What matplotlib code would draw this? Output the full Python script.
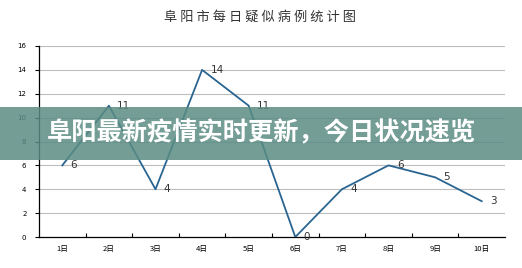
import matplotlib.pyplot as plt
from matplotlib.patches import Rectangle

plt.rcParams['font.family'] = ['Noto Sans CJK SC', 'DejaVu Sans']

days = ['1日', '2日', '3日', '4日', '5日', '6日', '7日', '8日', '9日', '10日']
cases = [6, 11, 4, 14, 11, 0, 4, 6, 5, 3]
yticks = [0, 2, 4, 6, 8, 10, 12, 14, 16]
title = '阜阳市每日疑似病例统计图'
banner = '阜阳最新疫情实时更新，今日状况速览'

fig = plt.figure(figsize=(5.22, 2.68), dpi=100)
ax = fig.add_axes([39 / 522, 1 - 237 / 268, 466 / 522, 191 / 268])

x = list(range(len(days)))
ax.plot(x, cases, color='#2a6592', lw=1.3, zorder=3)
for xi, v in zip(x, cases):
    ax.annotate(str(v), (xi, v), xytext=(6, 0), textcoords='offset points',
                ha='left', va='center', fontsize=7.5, color='#333333',
                family='DejaVu Sans')

ax.set_xlim(-0.5, len(days) - 0.5)
ax.set_ylim(0, 16)
ax.set_yticks(yticks)
ax.set_yticklabels([str(t) for t in yticks], fontsize=5, family='DejaVu Sans')
ax.set_xticks(x)
ax.set_xticklabels(days, fontsize=5.5)
ax.set_xticks([i + 0.5 for i in range(len(days) - 1)], minor=True)
ax.tick_params(axis='x', which='major', length=0, pad=6)
ax.tick_params(axis='x', which='minor', length=3, direction='in', width=0.8)
ax.tick_params(axis='y', length=3, width=0.8, pad=6)
for t in yticks[1:]:
    ax.axhline(t, color='#bdbdbd', lw=0.8, zorder=1)
for s in ['top', 'right']:
    ax.spines[s].set_visible(False)
ax.spines['left'].set_linewidth(0.9)
ax.spines['bottom'].set_linewidth(0.9)

# spaced-out title like the original
fig.text(260 / 522, 1 - 17 / 268, ' '.join(title), ha='center', va='center',
         fontsize=9.5, color='#333333')

fig.patches.append(Rectangle((0, 1 - 160 / 268), 1, 53 / 268,
                             transform=fig.transFigure, facecolor='#5a8c83',
                             alpha=0.85, zorder=5))
fig.text(261 / 522, 1 - 133 / 268, banner, ha='center', va='center',
         fontsize=18.2, fontweight='bold', color='white', zorder=6)

fig.savefig('out.png', dpi=100)
